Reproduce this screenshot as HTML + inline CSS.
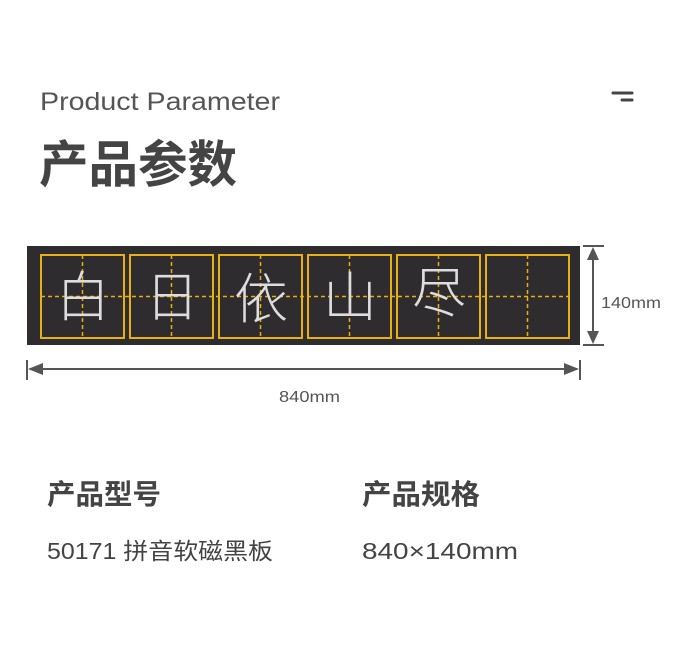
<!DOCTYPE html>
<html><head><meta charset="utf-8"><style>
body{margin:0;width:677px;height:658px;background:#fff;overflow:hidden;}
svg{display:block}
</style></head><body>
<svg width="677" height="658" viewBox="0 0 677 658" xmlns="http://www.w3.org/2000/svg">
<text x="40" y="110" font-family="Liberation Sans, sans-serif" font-size="25" fill="#555" textLength="240" lengthAdjust="spacingAndGlyphs">Product Parameter</text>
<text x="39" y="182" font-family="Liberation Sans, Noto Sans CJK SC, sans-serif" font-size="50" font-weight="bold" fill="#444" textLength="198" lengthAdjust="spacingAndGlyphs">产品参数</text>
<line x1="613" y1="93" x2="632" y2="93" stroke="#444" stroke-width="3" stroke-linecap="round"/>
<line x1="622" y1="100" x2="632" y2="100" stroke="#444" stroke-width="3" stroke-linecap="round"/>
<rect x="27" y="246" width="553" height="99" fill="#2e2c2f"/>
<g fill="none">
<g stroke="#e8b010" stroke-width="2">
<rect x="41" y="255" width="83" height="83"/><rect x="130" y="255" width="83" height="83"/><rect x="219" y="255" width="83" height="83"/><rect x="308" y="255" width="83" height="83"/><rect x="397" y="255" width="83" height="83"/><rect x="486" y="255" width="83" height="83"/>
</g>
<g stroke="#e8b010" stroke-width="1.5" stroke-dasharray="4,3">
<line x1="41" y1="296.5" x2="569" y2="296.5"/>
<line x1="82.5" y1="255" x2="82.5" y2="338"/><line x1="171.5" y1="255" x2="171.5" y2="338"/><line x1="260.5" y1="255" x2="260.5" y2="338"/><line x1="349.5" y1="255" x2="349.5" y2="338"/><line x1="438.5" y1="255" x2="438.5" y2="338"/><line x1="527.5" y1="255" x2="527.5" y2="338"/>
</g>
</g>
<g font-family="Liberation Sans, Noto Sans CJK SC, sans-serif" font-size="54" font-weight="300" fill="#ddd" text-anchor="middle">
<text x="83" y="316">白</text><text x="172" y="316">日</text><text x="261" y="318">依</text><text x="350" y="316">山</text><text x="439" y="312">尽</text>
</g>
<g stroke="#555" stroke-width="2">
<line x1="583" y1="246" x2="604" y2="246"/><line x1="583" y1="345" x2="604" y2="345"/>
<line x1="593" y1="250" x2="593" y2="341"/>
<line x1="27" y1="360" x2="27" y2="380"/><line x1="580" y1="360" x2="580" y2="380"/>
<line x1="30" y1="369" x2="577" y2="369"/>
</g>
<g fill="#555">
<polygon points="593,247 587,260 599,260"/><polygon points="593,344 587,331 599,331"/>
<polygon points="28,369 43,363 43,375"/><polygon points="579,369 564,363 564,375"/>
</g>
<text x="601" y="308" font-family="Liberation Sans, sans-serif" font-size="16" fill="#555" textLength="60" lengthAdjust="spacingAndGlyphs">140mm</text>
<text x="279" y="402" font-family="Liberation Sans, sans-serif" font-size="16" fill="#555" textLength="61" lengthAdjust="spacingAndGlyphs">840mm</text>
<g font-family="Liberation Sans, Noto Sans CJK SC, sans-serif" fill="#444">
<text x="47" y="504" font-size="28" font-weight="bold" textLength="114" lengthAdjust="spacingAndGlyphs">产品型号</text>
<text x="362" y="504" font-size="28" font-weight="bold" textLength="118" lengthAdjust="spacingAndGlyphs">产品规格</text>
<text x="47" y="559" font-size="23" textLength="226" lengthAdjust="spacingAndGlyphs">50171 拼音软磁黑板</text>
<text x="362" y="559" font-size="23" textLength="156" lengthAdjust="spacingAndGlyphs">840×140mm</text>
</g>
</svg>
</body></html>
